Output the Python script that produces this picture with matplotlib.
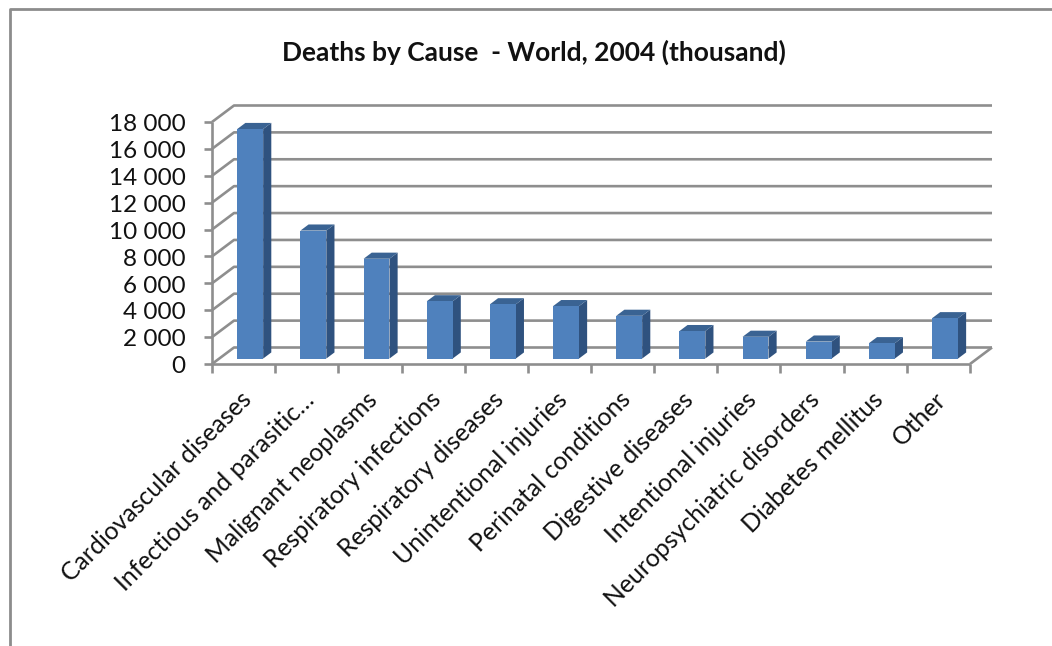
import numpy as np
from matplotlib import pyplot as plt
from matplotlib.patches import Polygon
from matplotlib.lines import Line2D

causes = ['Cardiovascular diseases', 'Infectious and parasitic…', 'Malignant neoplasms',
          'Respiratory infections', 'Respiratory diseases', 'Unintentional injuries',
          'Perinatal conditions', 'Digestive diseases', 'Intentional injuries',
          'Neuropsychiatric disorders', 'Diabetes mellitus', 'Other']
deaths = [17073, 9519, 7424, 4259, 4036, 3900, 3180, 2043, 1620, 1263, 1141, 3000]
yticks = list(range(0, 18001, 2000))
ylabels = ['0', '2 000', '4 000', '6 000', '8 000', '10 000', '12 000', '14 000', '16 000', '18 000']

W, H = 1052, 646
plt.rcParams['font.family'] = ['Lato', 'DejaVu Sans']

fig = plt.figure(figsize=(W / 100, H / 100), dpi=100)
ax = fig.add_axes([212 / W, 1 - 364 / H, 758 / W, 242 / H])
ax.set_xlim(0, len(causes))
ax.set_ylim(0, 18000)
ax.axis('off')

# depth of the floor, in data units
depth_x = 22 / (758 / len(causes))
depth_y = 16.5 / (242 / 18000)
grid_color = '#8e8e8e'

def line(xs, ys, lw=1.9, z=1):
    ax.add_line(Line2D(xs, ys, color=grid_color, lw=lw, clip_on=False, zorder=z,
                       solid_capstyle='butt'))

# back wall gridlines plus the slanted part on the left wall
for t in yticks:
    line([0, depth_x, len(causes) + depth_x], [t, t + depth_y, t + depth_y])
line([len(causes), len(causes) + depth_x], [0, depth_y])

# value axis and category axis with outward ticks
line([0, 0], [0, 18000], z=2)
line([0, len(causes)], [0, 0], z=2)
tick_x = 8 / (758 / len(causes))
tick_y = 9 / (242 / 18000)
for t, lab in zip(yticks, ylabels):
    line([-tick_x, 0], [t, t], z=2)
    ax.annotate(lab, xy=(0, t), xytext=(-19, -2), textcoords='offset points', ha='right', va='center',
                fontsize=17.5, color='#111111', annotation_clip=False)
for i in range(len(causes) + 1):
    line([i, i], [-tick_y, 0], z=2)

# each bar sits between two depths on the floor
bar_w = 0.41
near, far = 0.33, 0.70
for i, (name, v) in enumerate(zip(causes, deaths)):
    x0 = i + 0.5 - bar_w / 2 + near * depth_x - 0.01
    x1 = x0 + bar_w
    y0 = near * depth_y
    y1 = y0 + v
    dx = (far - near) * depth_x
    dy = (far - near) * depth_y
    ax.add_patch(Polygon([(x1, y0), (x1 + dx, y0 + dy), (x1 + dx, y1 + dy), (x1, y1)],
                         fc='#2f527f', ec='none', zorder=3, clip_on=False))
    ax.add_patch(Polygon([(x0, y1), (x0 + dx, y1 + dy), (x1 + dx, y1 + dy), (x1, y1)],
                         fc='#3a6393', ec='none', zorder=3, clip_on=False))
    ax.add_patch(Polygon([(x0, y0), (x1, y0), (x1, y1), (x0, y1)],
                         fc='#4f81bd', ec='none', zorder=4, clip_on=False))
    ax.annotate(name, xy=(i + 0.5, 0), xytext=(3, -23), textcoords='offset points',
                rotation=45, rotation_mode='anchor', ha='right', va='center',
                fontsize=17.8, color='#111111', annotation_clip=False)

fig.text(534 / W, 1 - 52 / H, 'Deaths by Cause  - World, 2004 (thousand)', ha='center', va='center',
         fontsize=19, fontweight='bold', color='#111111')

# chart frame
fig.add_artist(Line2D([10 / W, 10 / W, 1], [0, 1 - 9 / H, 1 - 9 / H], color='#8c8c8c', lw=2.0,
                      transform=fig.transFigure))

fig.savefig('out.png', dpi=100)
